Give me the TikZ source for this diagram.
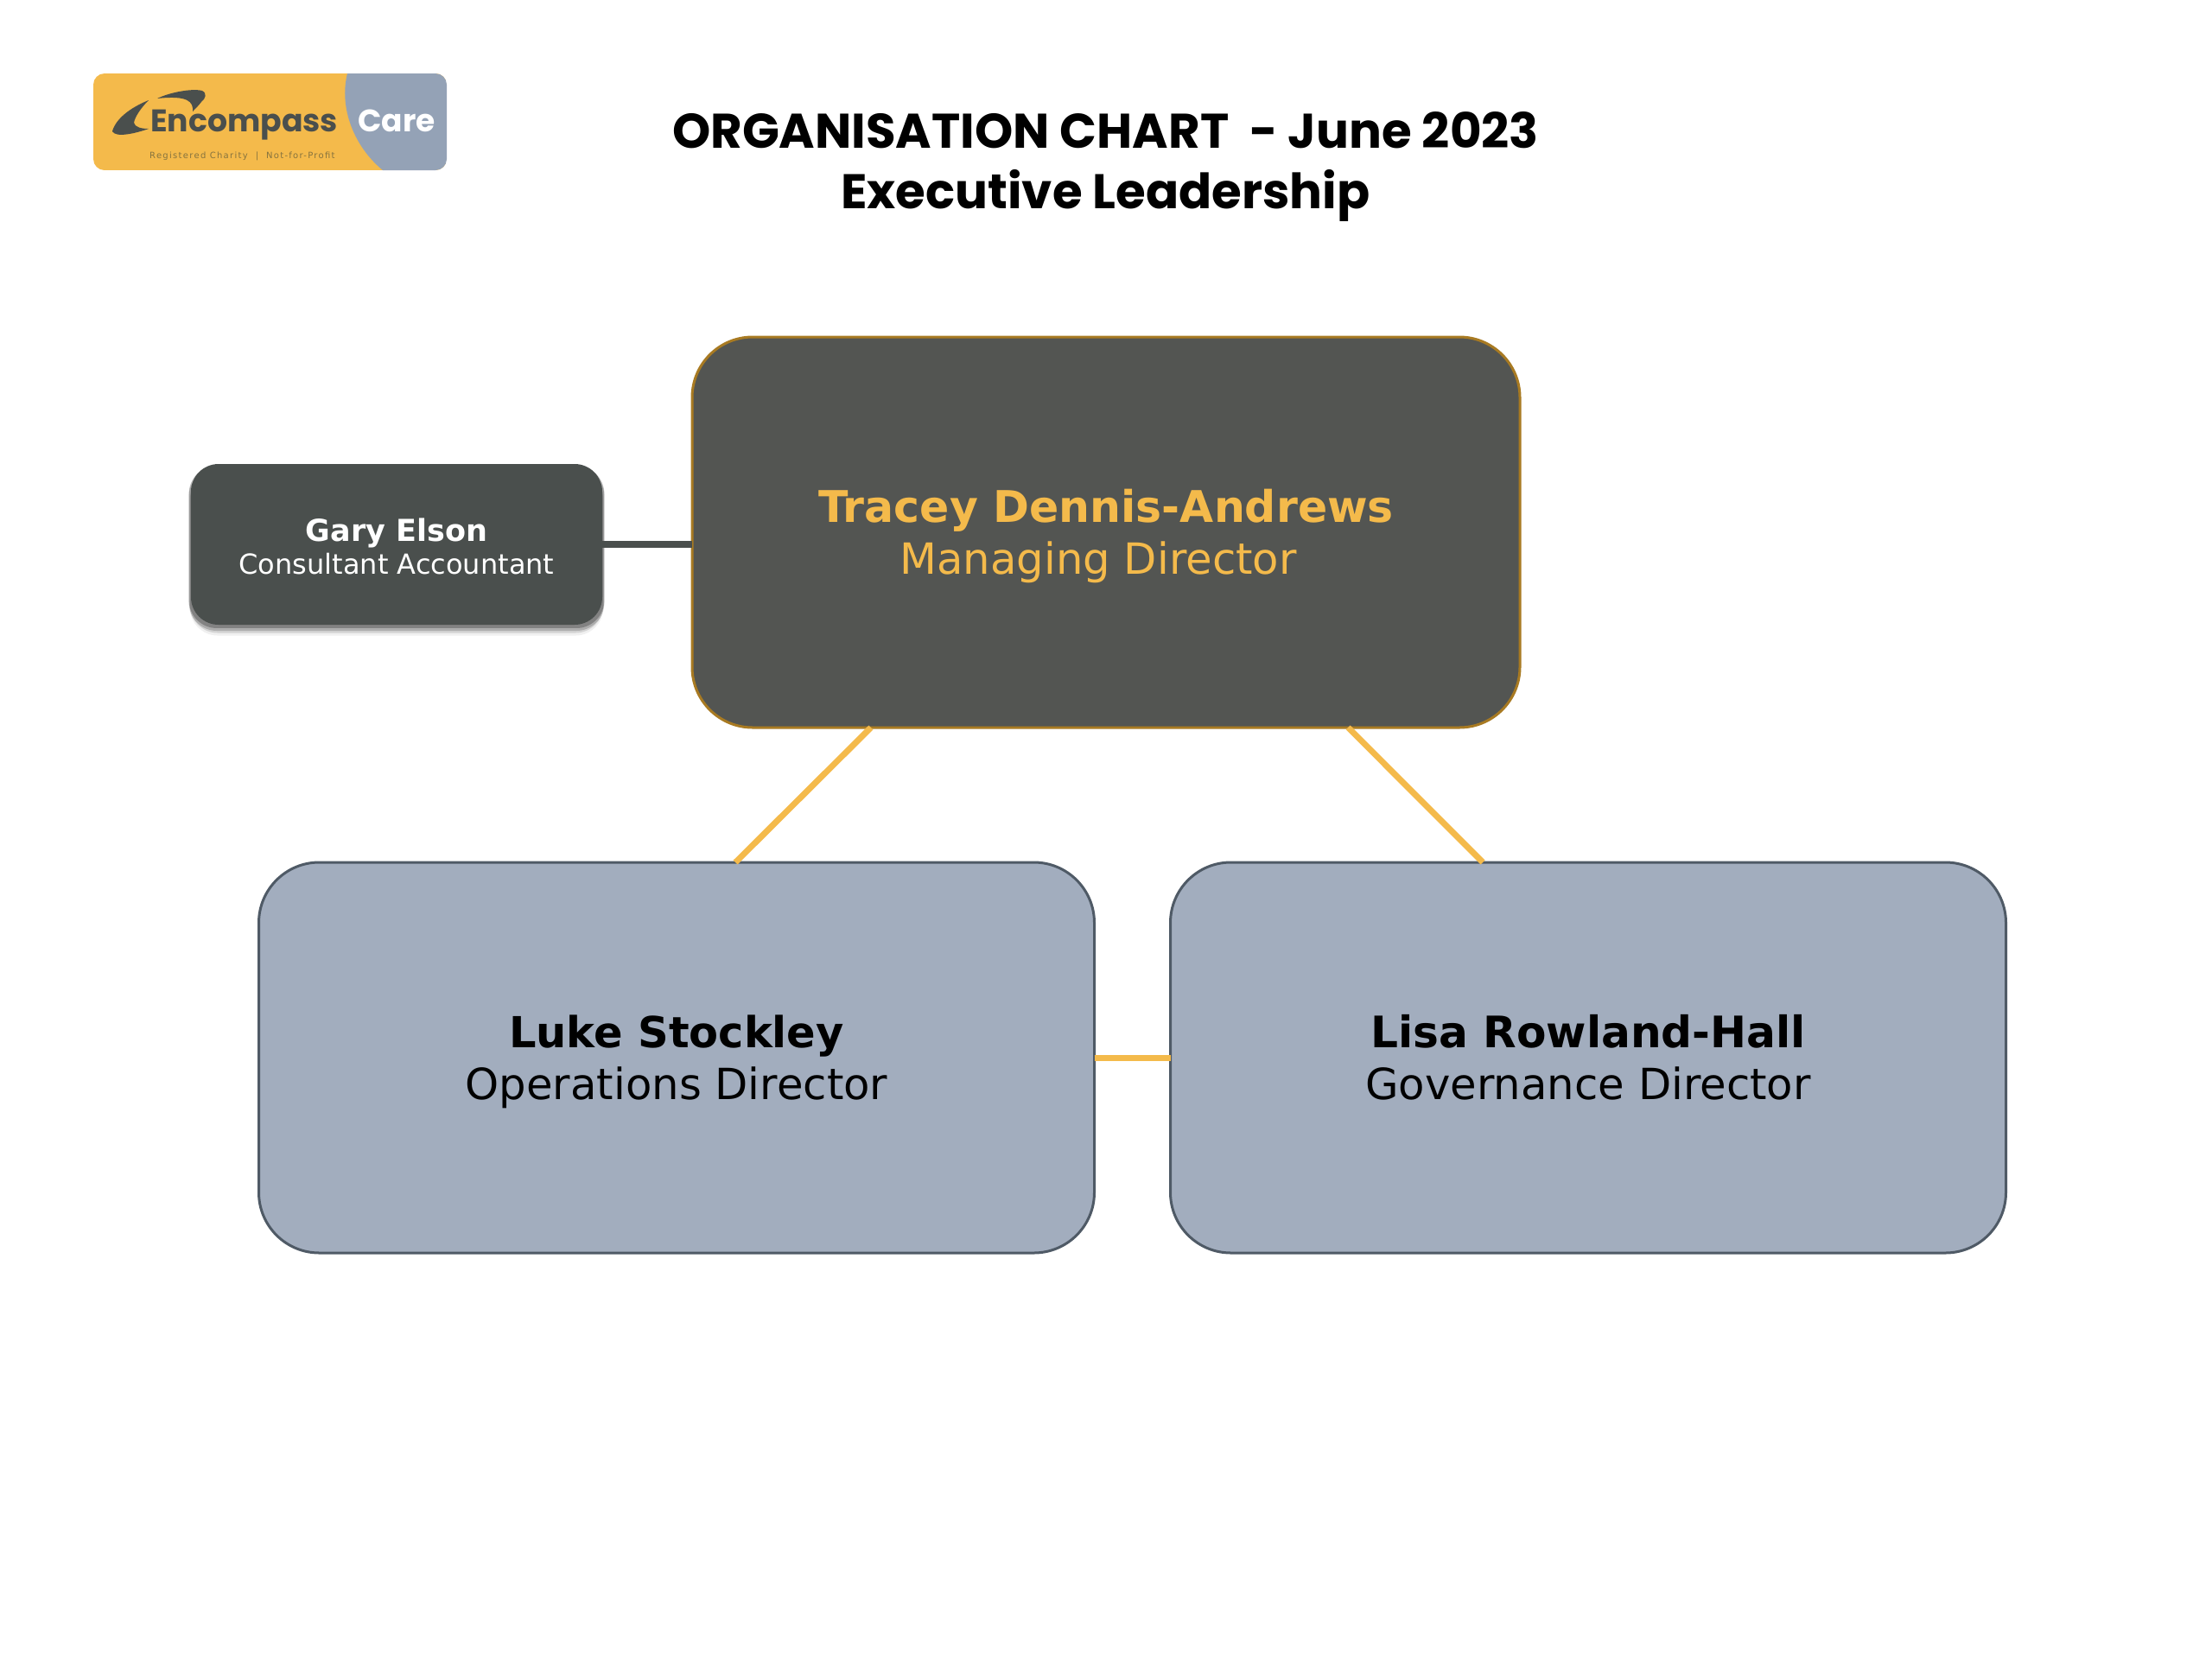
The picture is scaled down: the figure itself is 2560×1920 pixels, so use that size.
\documentclass[tikz,border=0pt]{standalone}
\usepackage{fontspec}
\setmainfont{DejaVu Sans}
\newfontfamily\titlefont{Poppins}
\usetikzlibrary{calc,shadows}
\definecolor{gold}{HTML}{F4BA4B}
\definecolor{topfill}{HTML}{535552}
\definecolor{topedge}{HTML}{A87A22}
\definecolor{darkfill}{HTML}{4A4F4D}
\definecolor{slatefill}{HTML}{A2ADBE}
\definecolor{slateedge}{HTML}{4F5A66}
\definecolor{logogrey}{HTML}{94A2B6}
\definecolor{logotag}{HTML}{85733F}
\newcommand{\bigtop}{\rule{0pt}{50pt}}
\newcommand{\bigbot}{\rule[-13pt]{0pt}{13pt}}
\newcommand{\smalltop}{\rule{0pt}{33pt}}
\newcommand{\smallbot}{\rule[-2.5pt]{0pt}{2.5pt}}
\newcommand{\namefont}[1]{\bfseries\fontsize{#1}{60.5}\selectfont}
\tikzset{
  x=1pt,y=-1pt,
  orgbox/.style={rectangle,rounded corners=70pt,outer sep=0pt,inner sep=0pt,align=center,anchor=center,line width=3pt},
  bigtext/.style={font=\fontsize{49.7}{60.5}\selectfont},
  topbox/.style={orgbox,bigtext,draw=topedge,fill=topfill,text=gold,minimum width=958pt,minimum height=452pt},
  slatebox/.style={orgbox,bigtext,draw=slateedge,fill=slatefill,text=black,minimum width=967pt,minimum height=452pt},
  sidebox/.style={orgbox,rounded corners=32pt,fill=darkfill,text=white,minimum width=476pt,minimum height=186pt,
    font=\fontsize{32}{38}\selectfont,
    drop shadow={shadow xshift=0pt,shadow yshift=-12pt,shadow scale=1.005,fill=black,opacity=.06},
    drop shadow={shadow xshift=0pt,shadow yshift=-9pt,shadow scale=1.005,fill=black,opacity=.12},
    drop shadow={shadow xshift=0pt,shadow yshift=-6pt,shadow scale=1.01,fill=black,opacity=.18},
    drop shadow={shadow xshift=0pt,shadow yshift=-3pt,shadow scale=1.01,fill=black,opacity=.25}},
  goldlink/.style={draw=gold,line width=7pt},
  darklink/.style={draw=darkfill,line width=7.5pt},
  titletext/.style={font=\titlefont\bfseries\fontsize{56.3}{70}\selectfont,align=center,inner sep=0pt,text=black},
}
\begin{document}
\begin{tikzpicture}
\useasboundingbox (0,0) rectangle (2560,1920);
% logo
\begin{scope}
  \clip[rounded corners=13pt] (108,85) rectangle (517,197);
  \fill[gold] (108,85) rectangle (517,197);
  \fill[logogrey] (402,85) .. controls (392,125) and (410,170) .. (443,197) -- (517,197) -- (517,85) -- cycle;
\end{scope}
\fill[darkfill] (130,152) .. controls (134,137) and (152,124) .. (172,116)
  .. controls (162,126) and (156,136) .. (155,142)
  .. controls (156,147) and (163,149) .. (172,149)
  .. controls (158,154) and (134,160) .. (130,152) -- cycle;
\fill[darkfill] (182,114) .. controls (196,107) and (222,102) .. (234,105)
  .. controls (240,108) and (238,114) .. (233,118)
  .. controls (230,122) and (226,126) .. (223,129)
  .. controls (224,118) and (218,110) .. (182,114) -- cycle;
\node[anchor=base west,inner sep=0pt,text=darkfill,font=\titlefont\bfseries\fontsize{36.2}{36}\selectfont] (logoname) at (174,152) {Encompass};
\node[anchor=base west,inner sep=0pt,text=white,font=\titlefont\bfseries\fontsize{36}{36}\selectfont] (logocare) at (414,152) {Care};
\node[anchor=base west,inner sep=0pt,text=logotag,font=\fontsize{10}{10}\selectfont\addfontfeature{LetterSpace=13}] (logotag) at (173,183) {Registered Charity \ | \ Not-for-Profit};
% title
\node[titletext,anchor=center] (title) at (1279.5,193) {ORGANISATION CHART \ - June 2023\\Executive Leadership};
% boxes
\node[topbox] (md) at (1280,616) {\bigtop{\namefont{50.5}Tracey Dennis-Andrews}\\Managing Director\hspace*{18pt}\bigbot};
\node[sidebox] (acct) at (459,630) {\smalltop{\bfseries\fontsize{35}{38}\selectfont Gary Elson}\\Consultant Accountant\smallbot};
\node[slatebox] (ops) at (783,1224) {\bigtop{\namefont{49.5}Luke Stockley}\\Operations Director\bigbot};
\node[slatebox] (gov) at (1838,1224) {\bigtop{\namefont{50.2}Lisa Rowland-Hall}\\Governance Director\bigbot};
% connectors
\draw[darklink] (acct.east) -- (md.west |- acct.east);
\draw[goldlink] (ops.east) -- (gov.west);
\draw[goldlink] ($(md.south west)!0.2160!(md.south east)$) -- ($(ops.north west)!0.5705!(ops.north east)$);
\draw[goldlink] ($(md.south west)!0.7925!(md.south east)$) -- ($(gov.north west)!0.3740!(gov.north east)$);
\end{tikzpicture}
\end{document}
